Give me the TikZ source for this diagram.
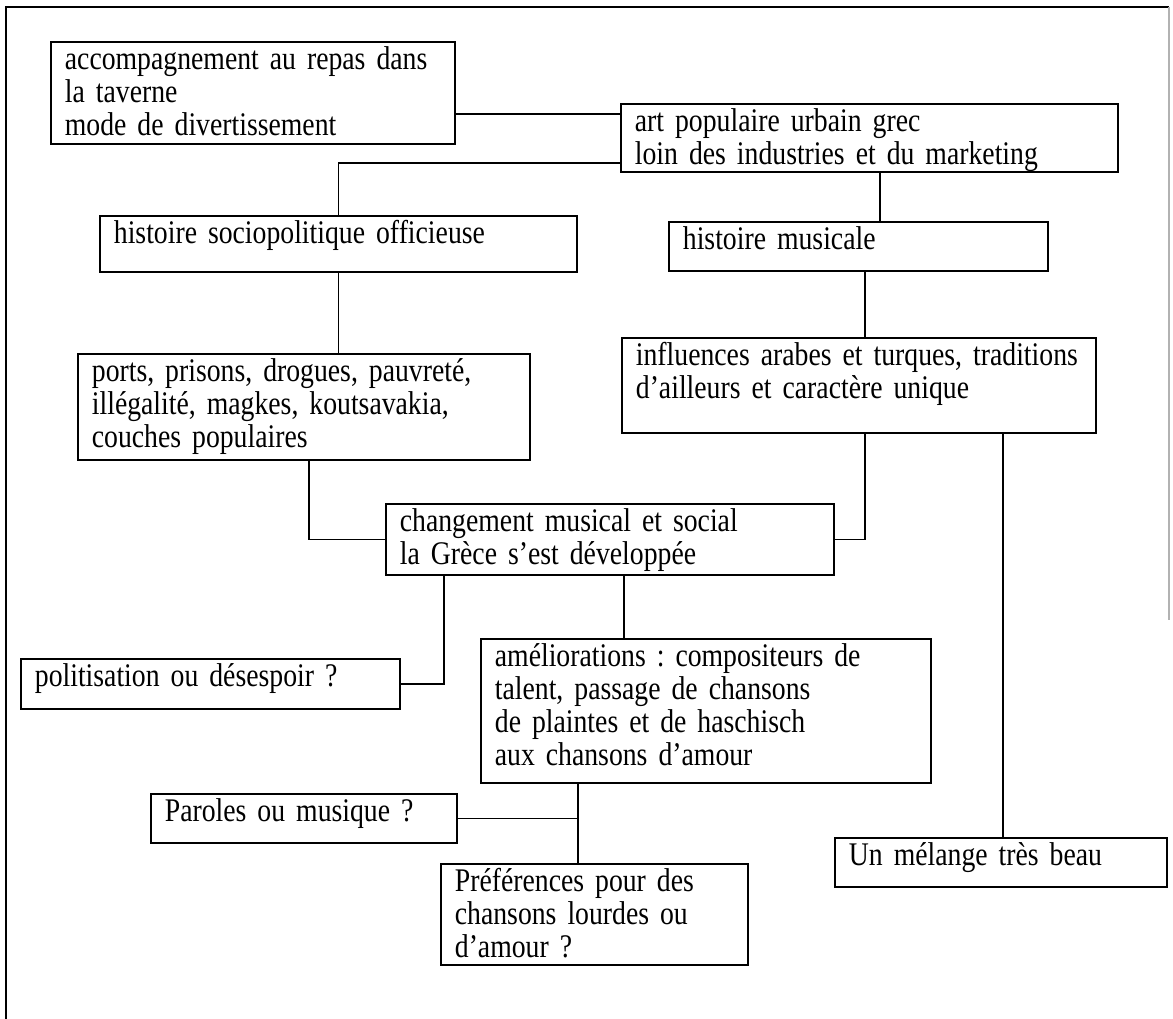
\documentclass[tikz,border=0pt]{standalone}
\usepackage{fontspec}
\setmainfont{Liberation Serif}[FakeStretch=0.84]
\frenchspacing
\begin{document}
\begin{tikzpicture}[x=1pt,y=-1pt,line width=1.8pt,
    cbox/.style={draw,anchor=north west,align=left,inner xsep=14pt,inner ysep=0pt,
      text height=28pt,font=\fontsize{33}{33}\selectfont}]
 \useasboundingbox (0,0) rectangle (1173,1019);
 \draw (6,1030) |- (1169,7);
 \draw[gray!60] (1169,7) -- (1169,620);
 \node[cbox,text width=376pt,text depth=74pt] (taverne) at (50,41)
  {accompagnement au repas dans\\ la taverne\\ mode de divertissement};
 \node[cbox,text width=469pt,text depth=40pt] (art) at (620,103)
  {art populaire urbain grec\\ loin des industries et du marketing};
 \node[cbox,text width=449pt,text depth=28pt] (hsocio) at (99,215)
  {histoire sociopolitique officieuse};
 \node[cbox,text width=351pt,text depth=21pt] (hmusic) at (668,221)
  {histoire musicale};
 \node[cbox,text width=424pt,text depth=78pt] (ports) at (77,353)
  {ports, prisons, drogues, pauvreté,\\ illégalité, magkes, koutsavakia,\\ couches populaires};
 \node[cbox,text width=446pt,text depth=67pt] (infl) at (621,337)
  {influences arabes et turques, traditions\\ d’ailleurs et caractère unique};
 \node[cbox,text width=420pt,text depth=43pt] (chgt) at (385,503)
  {changement musical et social\\ la Grèce s’est développée};
 \node[cbox,text width=351pt,text depth=22pt] (polit) at (20,658)
  {politisation ou désespoir ?};
 \node[cbox,text width=422pt,text depth=116pt] (amelio) at (480,638)
  {améliorations : compositeurs de\\ talent, passage de chansons\\ de plaintes et de haschisch\\ aux chansons d’amour};
 \node[cbox,text width=278pt,text depth=21pt] (paroles) at (150,793)
  {Paroles ou musique ?};
 \node[cbox,text width=279pt,text depth=73pt] (pref) at (440,863)
  {Préférences pour des\\ chansons lourdes ou\\ d’amour ?};
 \node[cbox,text width=304pt,text depth=21pt] (melange) at (834,837)
  {Un mélange très beau};
 \draw ([yshift=-21pt]taverne.east) -- ([yshift=-21pt]taverne.east -| art.west);
 \draw ([yshift=-25pt]art.west) -| (hsocio.north);
 \draw ([xshift=10.5pt]art.south) -- ([xshift=10.5pt]art.south |- hmusic.north);
 \draw (hsocio.south) -- (hsocio.south |- ports.north);
 \draw ([xshift=6.5pt]hmusic.south) -- ([xshift=6.5pt]hmusic.south |- infl.north);
 \draw ([xshift=5pt]ports.south) |- (chgt.west);
 \draw ([xshift=6pt]infl.south) |- (chgt.east);
 \draw ([xshift=-166pt]chgt.south) |- (polit.east);
 \draw ([xshift=14pt]chgt.south) -- ([xshift=14pt]chgt.south |- amelio.north);
 \draw ([xshift=-16.5pt]pref.north) -- ([xshift=-16.5pt]pref.north |- amelio.south);
 \draw (paroles.east) -- ([xshift=-16.5pt]pref.north |- paroles.east);
 \draw ([xshift=2pt]melange.north) -- ([xshift=2pt]melange.north |- infl.south);
\end{tikzpicture}
\end{document}
